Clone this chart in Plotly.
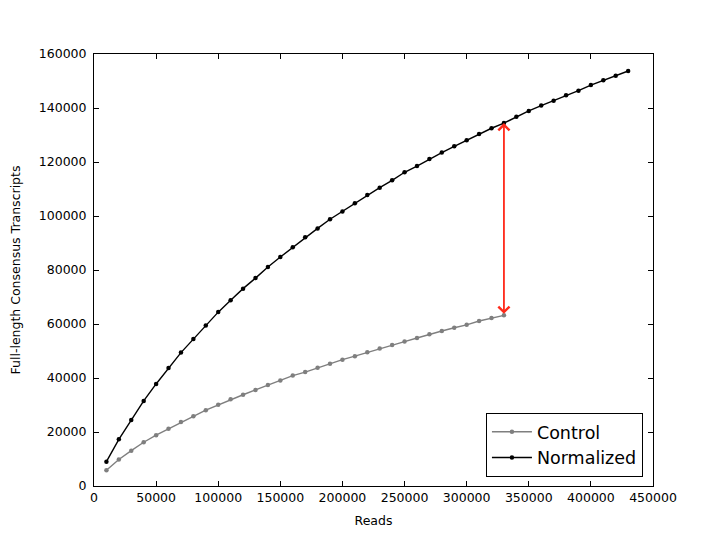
import plotly.graph_objects as go

reads_control = [i * 10000 for i in range(1, 34)]
control = [5800, 9800, 13100, 16200, 18800, 21200, 23700, 25800, 28100, 30100,
           32100, 33800, 35600, 37400, 39100, 40900, 42200, 43800, 45300, 46800,
           48100, 49500, 50900, 52200, 53500, 54800, 56200, 57400, 58600, 59700,
           61100, 62200, 63200]

reads_norm = [i * 10000 for i in range(1, 44)]
normalized = [9000, 17300, 24400, 31500, 37800, 43700, 49400, 54400, 59400, 64400,
              68800, 73100, 77000, 81100, 84800, 88400, 92100, 95400, 98800, 101700,
              104700, 107800, 110500, 113200, 116200, 118500, 121100, 123500, 125800, 128100,
              130400, 132500, 134400, 136800, 138900, 140900, 142700, 144700, 146400, 148500,
              150300, 151900, 153700]

arrow_x = 330000
arrow_low = control[-1]
arrow_high = normalized[32]

font = "DejaVu Sans"

fig = go.Figure()
fig.add_trace(go.Scatter(x=reads_control, y=control, mode="lines+markers", name="Control",
                         line=dict(color="#7f7f7f", width=1.4),
                         marker=dict(color="#7f7f7f", size=4.5)))
fig.add_trace(go.Scatter(x=reads_norm, y=normalized, mode="lines+markers", name="Normalized",
                         line=dict(color="black", width=1.4),
                         marker=dict(color="black", size=4.5)))

fig.add_annotation(x=arrow_x, y=arrow_high, ax=arrow_x, ay=arrow_low,
                   xref="x", yref="y", axref="x", ayref="y",
                   showarrow=True, arrowside="end+start", arrowhead=4, startarrowhead=4,
                   arrowsize=1.2, startarrowsize=1.2, arrowwidth=1.8, arrowcolor="#ff2a1a",
                   text="")

axis_common = dict(showgrid=False, zeroline=False, showline=True, linecolor="black",
                   linewidth=1, mirror="ticks", ticks="inside", ticklen=5, automargin=False,
                   tickcolor="black", tickfont=dict(family=font, size=12.5, color="black"))

fig.update_xaxes(range=[0, 450000], tickvals=list(range(0, 450001, 50000)),
                 ticktext=[str(v) for v in range(0, 450001, 50000)],
                 title=dict(text="Reads", font=dict(family=font, size=12.5, color="black"), standoff=12),
                 **axis_common)
fig.update_yaxes(range=[0, 160000], tickvals=list(range(0, 160001, 20000)),
                 ticktext=[str(v) for v in range(0, 160001, 20000)],
                 ticklabelstandoff=4,
                 title=dict(text="Full-length Consensus Transcripts",
                            font=dict(family=font, size=12.5, color="black"), standoff=18),
                 **axis_common)

fig.update_layout(width=720, height=540, plot_bgcolor="white", paper_bgcolor="white",
                  margin=dict(l=86, r=75, t=46, b=62),
                  font=dict(family=font, color="black"),
                  legend=dict(x=0.982, y=0.021, xanchor="right", yanchor="bottom",
                              bordercolor="black", borderwidth=1, bgcolor="white",
                              font=dict(family=font, size=17.5, color="black"),
                              tracegroupgap=0, itemwidth=40))

fig.write_html("out.html")
